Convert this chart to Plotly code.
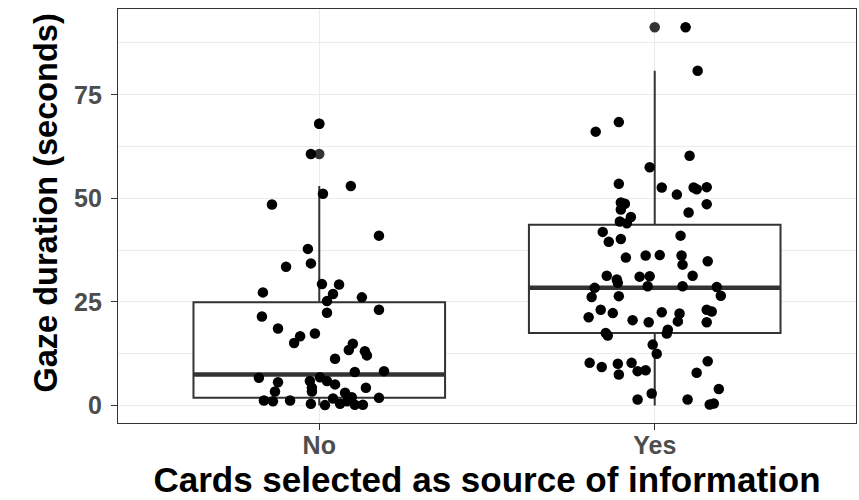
import plotly.graph_objects as go

# ---- data ----
categories = ["No", "Yes"]
cat_pos = [1, 2]

# box statistics (seconds)
q1 = [1.85, 17.5]
median = [7.5, 28.4]
q3 = [24.9, 43.6]
lower_fence = [0.0, 0.0]
upper_fence = [53.0, 80.8]
outliers_no = [60.7, 68.0]
outliers_yes = [91.3]

# jittered observations: horizontal offset (category units) and value
no_jitter = [0.000, -0.025, 0.011, -0.141, 0.094, 0.178, -0.034, -0.099, -0.025, 0.008,
             -0.168, 0.023, 0.023, -0.171, -0.123, -0.057, -0.075, -0.013, 0.059, 0.041,
             0.127, 0.178, 0.100, 0.088, 0.136, 0.142, 0.047, 0.106, 0.193, -0.180,
             -0.123, -0.132, -0.165, -0.138, -0.087, -0.028, 0.002, -0.022, -0.025, 0.017,
             0.023, 0.047, 0.139, 0.077, 0.097, 0.178, 0.041, 0.062, 0.106, 0.130,
             0.083, -0.022]
no_values = [68.0, 60.7, 51.1, 48.5, 53.0, 41.0, 37.8, 33.5, 34.3, 29.3,
             27.3, 25.2, 22.4, 21.5, 18.6, 16.7, 15.1, 17.4, 29.2, 26.9,
             26.1, 23.1, 14.9, 13.4, 13.1, 12.1, 11.3, 8.1, 8.3, 6.7,
             5.6, 3.4, 1.2, 1.0, 1.2, 5.9, 6.8, 3.4, 0.4, 0.1,
             5.9, 5.1, 4.3, 3.1, 2.0, 1.85, 1.7, 0.4, 0.2, 0.2,
             1.0, 4.3]

yes_jitter = [0.092, 0.128, -0.176, -0.107, -0.015, -0.107, 0.021, -0.101, -0.089, -0.101,
              -0.071, -0.104, -0.083, -0.155, -0.137, -0.101, -0.086, -0.027, 0.015, -0.143,
              -0.113, -0.045, -0.015, 0.104, 0.066, 0.116, 0.125, 0.155, 0.155, 0.101,
              0.077, 0.080, 0.083, 0.158, 0.113, -0.110, -0.179, -0.021, -0.188, -0.107,
              -0.161, -0.197, -0.125, -0.066, -0.018, 0.021, -0.146, -0.140, -0.006, 0.006,
              -0.194, -0.158, -0.110, -0.107, -0.069, -0.051, -0.027, -0.009, -0.051, 0.083,
              0.185, 0.197, 0.074, 0.069, 0.155, 0.170, 0.155, 0.039, 0.036, 0.158,
              0.125, 0.191, 0.098, 0.164, 0.176]
yes_values = [91.3, 80.8, 66.1, 68.4, 57.5, 53.5, 52.6, 49.0, 48.7, 47.3,
              45.5, 44.4, 44.0, 41.9, 39.5, 40.2, 35.7, 36.2, 36.3, 31.3,
              30.4, 31.1, 31.2, 60.3, 50.9, 52.6, 52.2, 52.7, 48.6, 46.6,
              41.0, 36.2, 34.0, 34.8, 31.3, 29.6, 28.4, 28.8, 26.2, 26.4,
              23.1, 21.3, 22.3, 20.6, 20.1, 22.5, 17.5, 16.9, 14.7, 12.5,
              10.3, 9.3, 10.1, 7.5, 10.3, 8.3, 8.5, 2.9, 1.45, 28.8,
              28.6, 26.5, 22.2, 20.3, 23.1, 22.7, 20.1, 18.3, 17.4, 10.7,
              7.9, 4.0, 1.45, 0.25, 0.5]

y_ticks = [0, 25, 50, 75]
x_title = "Cards selected as source of information"
y_title = "Gaze duration (seconds)"

BOX_W = 0.75
DARK = "#333333"
FONT = "Liberation Sans, Arial, sans-serif"

fig = go.Figure()

fig.add_trace(go.Box(
    x=cat_pos, q1=q1, median=median, q3=q3,
    lowerfence=lower_fence, upperfence=upper_fence,
    width=BOX_W, boxpoints=False, whiskerwidth=0,
    fillcolor="white", line=dict(color=DARK, width=2),
    showlegend=False, hoverinfo="skip",
))

# thick median bars (ggplot fatten)
for p, m in zip(cat_pos, median):
    fig.add_trace(go.Scatter(
        x=[p - BOX_W / 2, p + BOX_W / 2], y=[m, m], mode="lines",
        line=dict(color=DARK, width=4.5), showlegend=False, hoverinfo="skip",
    ))

# outliers drawn by the boxplot
fig.add_trace(go.Scatter(
    x=[cat_pos[0]] * len(outliers_no) + [cat_pos[1]] * len(outliers_yes),
    y=outliers_no + outliers_yes, mode="markers",
    marker=dict(color=DARK, size=10.5), showlegend=False, hoverinfo="skip",
))

# jittered points
fig.add_trace(go.Scatter(
    x=[cat_pos[0] + j for j in no_jitter] + [cat_pos[1] + j for j in yes_jitter],
    y=no_values + yes_values, mode="markers",
    marker=dict(color="black", size=10.5), showlegend=False,
))

axis_common = dict(
    showline=True, mirror=True, linecolor=DARK, linewidth=1.4,
    ticks="outside", ticklen=6, tickwidth=1.4, tickcolor=DARK,
    gridcolor="#EBEBEB", gridwidth=1.4, zeroline=False,
    tickfont=dict(family=FONT, size=25, color="#4D4D4D", weight="bold"),
)

fig.update_layout(
    width=859, height=500,
    margin=dict(l=117.5, r=2.5, t=9, b=76.5),
    paper_bgcolor="white", plot_bgcolor="white",
    font=dict(family=FONT, color="black"),
    xaxis=dict(
        range=[0.4, 2.6], tickvals=cat_pos, ticktext=categories,
        title=dict(text=x_title, standoff=9,
                   font=dict(size=35, weight="bold", color="black")),
        ticklabelstandoff=-6,
        **axis_common,
    ),
    yaxis=dict(
        range=[-4.22, 95.7], tickvals=y_ticks, ticktext=[str(t) for t in y_ticks],
        minor=dict(dtick=12.5, tick0=0, showgrid=True, gridcolor="#EBEBEB",
                   gridwidth=0.7, ticks=""),
        ticklabelstandoff=4,
        **axis_common,
    ),
    annotations=[dict(
        text=y_title, textangle=-90, xref="paper", yref="paper",
        x=0, y=0.5, xanchor="center", yanchor="middle",
        xshift=-72.5, yshift=13, showarrow=False,
        font=dict(family=FONT, size=32.5, weight="bold", color="black"),
    )],
)

fig.write_html("out.html", config={"displayModeBar": False},
               post_script="document.body.style.margin='0';")
